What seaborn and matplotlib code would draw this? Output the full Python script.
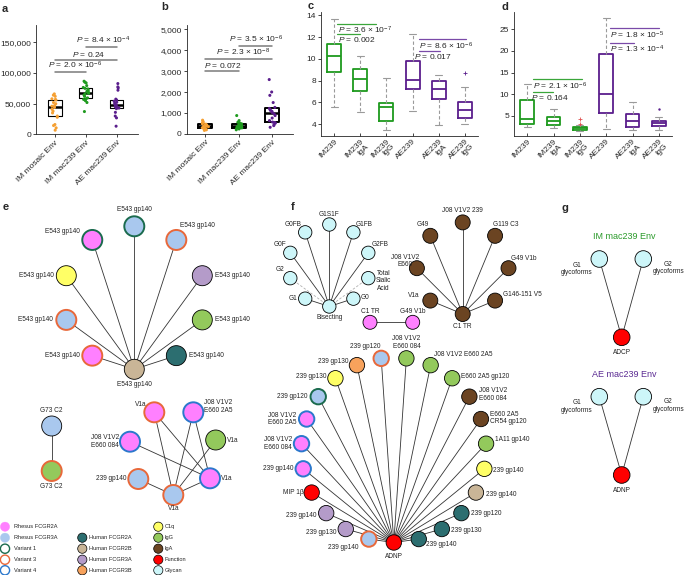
import numpy as np
import pandas as pd
import matplotlib
matplotlib.use("Agg")
import matplotlib.pyplot as plt
from matplotlib.patches import Circle
from matplotlib.ticker import FuncFormatter
import seaborn as sns

sns.set_style("ticks")
plt.rcParams['font.family'] = ['Liberation Sans', 'DejaVu Sans']
plt.rcParams['mathtext.fontset'] = 'custom'
plt.rcParams['mathtext.rm'] = 'Liberation Sans'
plt.rcParams['mathtext.it'] = 'Liberation Sans:italic'
plt.rcParams['mathtext.bf'] = 'Liberation Sans:bold'
np.random.seed(3)

# ---------------- data: panels a, b ----------------
ab_groups = ["IM mosaic Env", "IM mac239 Env", "AE mac239 Env"]
a_im_mosaic = [7000, 10800, 14600, 16200, 28000, 30000, 35000, 38000, 41000, 44000,
               46000, 47000, 50000, 52000, 56000, 57000, 58000, 62000, 64000, 66000]
a_im_mac239 = [37300, 52000, 55000, 57000, 58000, 59500, 62000, 64000, 66000, 67000,
               68200, 70000, 72000, 74000, 75000, 76500, 79500, 83900, 85000, 86600]
a_ae_mac239 = [13500, 27000, 30000, 36000, 42000, 43000, 44000, 45000, 46500, 48000,
               49500, 51000, 52500, 54000, 56000, 57500, 72000, 75700, 77400, 82800]
a_pairs = [(0, 1), (0, 2), (1, 2)]
a_pvals = ["2.0 × 10$^{-6}$", "0.24", "8.4 × 10$^{-4}$"]

b_im_mosaic = [170, 200, 230, 250, 260, 280, 300, 330, 350, 360,
               380, 400, 420, 450, 470, 490, 520, 560, 610, 660]
b_im_mac239 = [200, 240, 270, 290, 300, 310, 330, 350, 370, 390,
               410, 420, 440, 460, 475, 490, 520, 560, 640, 880]
b_ae_mac239 = [320, 400, 450, 520, 550, 570, 640, 760, 880, 960,
               1030, 1080, 1130, 1180, 1220, 1270, 1500, 1843, 2004, 2597]
b_pairs = [(0, 1), (0, 2), (1, 2)]
b_pvals = ["0.072", "2.3 × 10$^{-8}$", "3.5 × 10$^{-6}$"]

# ---------------- data: panels c, d ----------------
cd_groups = ["IM239", "IM239\nIgA", "IM239\nIgG", "AE239", "AE239\nIgA", "AE239\nIgG"]
c_low = [5.6, 5.07, 3.49, 5.16, 3.94, 3.98]
c_q1 = [8.8, 7.06, 4.27, 7.18, 6.27, 4.6]
c_med = [10.3, 8.13, 5.53, 8.04, 7.24, 5.28]
c_q3 = [11.4, 9.05, 5.95, 9.84, 7.92, 6.0]
c_high = [13.66, 10.3, 8.2, 12.3, 8.52, 7.44]
c_out_group = [5]
c_out_value = [8.7]
c_pvals_im = ["3.6 × 10$^{-7}$", "0.002"]
c_pvals_ae = ["8.6 × 10$^{-6}$", "0.017"]

d_low = [2.44, 2.14, 1.45, 1.98, 1.74, 1.74]
d_q1 = [3.14, 2.84, 1.74, 5.77, 2.5, 2.67]
d_med = [4.3, 3.77, 2.1, 10.05, 3.84, 3.3]
d_q3 = [8.56, 4.7, 2.5, 19.35, 5.47, 3.84]
d_high = [12.3, 6.6, 2.8, 27.7, 8.26, 4.7]
d_out_group = [2, 2, 5]
d_out_value = [4.3, 3.1, 6.56]
d_pvals_im = ["2.1 × 10$^{-6}$", "0.164"]
d_pvals_ae = ["1.8 × 10$^{-5}$", "1.3 × 10$^{-4}$"]

# ---------------- colours ----------------
ORANGE, GREEN, PURPLE = "#F5A033", "#1E9A1E", "#5A1E8C"
PINK, LBLUE = "#FF80FF", "#A9C8EE"
V1, V3, V4 = "#1B6B4E", "#E8683A", "#2B78CC"
TEAL, TAN, LPURP, HORANGE = "#2C6E70", "#C9B597", "#B49BC9", "#F7A25C"
YELLOW, IGG, IGA, RED, GLY = "#FFFF66", "#93C95C", "#6B4422", "#FF0000", "#CDF6F9"
BLK = "black"

W, H = 685, 575
fig = plt.figure(figsize=(6.85, 5.75), dpi=100)


def ax_px(l, t, r, b):
    return fig.add_axes([l / W, 1 - b / H, (r - l) / W, (b - t) / H])


def style_ax(ax):
    ax.set_facecolor("none")
    sns.despine(ax=ax)
    for s in ("left", "bottom"):
        ax.spines[s].set_linewidth(0.6)
    ax.tick_params(labelsize=6, length=2, width=0.6, pad=1.5)
    ax.set_xlabel("")
    ax.set_ylabel("")


def ptxt(s):
    return r"$\it{P}$ = " + s


# ---------------- network overlay axes ----------------
net = fig.add_axes([0, 0, 1, 1])
net.set_xlim(0, W)
net.set_ylim(H, 0)
net.set_axis_off()
net.set_facecolor("none")


# ---------------- panels a & b ----------------
def strip_box(ax, vals, ylim, xlim, blw, mlw):
    df = pd.DataFrame({"group": np.repeat(ab_groups, [len(v) for v in vals]),
                       "value": np.concatenate(vals)})
    sns.boxplot(data=df, x="group", y="value", order=ab_groups, ax=ax, fill=False,
                color="black", linewidth=blw, width=0.43, showfliers=False,
                showcaps=False, whis=0, whiskerprops=dict(linewidth=0),
                medianprops=dict(linewidth=mlw, color="black"), zorder=2)
    sns.stripplot(data=df, x="group", y="value", order=ab_groups, hue="group",
                  palette=[ORANGE, GREEN, PURPLE], hue_order=ab_groups, ax=ax,
                  jitter=0.1, size=2.2, linewidth=0, legend=False, zorder=3)
    ax.set_ylim(*ylim)
    ax.set_xlim(*xlim)
    style_ax(ax)
    ax.yaxis.set_major_formatter(FuncFormatter(lambda v, p: f"{v:,.0f}"))
    ax.set_xticks(range(3))
    ax.set_xticklabels(ab_groups, rotation=45, ha="right", rotation_mode="anchor")


ax_a = ax_px(36, 25, 138, 134.5)
strip_box(ax_a, [a_im_mosaic, a_im_mac239, a_ae_mac239], (0, 178000), (-0.61, 2.69), 0.8, 1.8)
ax_a.set_yticks([0, 50000, 100000, 150000])
for (g0, g1), p, y, tx in zip(a_pairs, a_pvals, [101000, 121000, 142000], [-0.22, 0.57, 0.68]):
    ax_a.plot([g0, g1], [y, y], color="#7a7a7a", lw=1.1, clip_on=False)
    ax_a.text(tx, y + 1500, ptxt(p), fontsize=6, ha="left", va="bottom")

ax_b = ax_px(186.5, 25, 293, 134)
strip_box(ax_b, [b_im_mosaic, b_im_mac239, b_ae_mac239], (0, 5200), (-0.56, 2.62), 1.4, 1.8)
ax_b.set_yticks(range(0, 5001, 1000))
for (g0, g1), p, y, tx in zip(b_pairs, b_pvals, [3000, 3570, 4200], [-0.05, 0.31, 0.71]):
    ax_b.plot([g0, g1], [y, y], color="#7a7a7a", lw=1.1, clip_on=False)
    ax_b.text(tx, y + 40, ptxt(p), fontsize=6, ha="left", va="bottom")


# ---------------- panels c & d ----------------
def box5(ax, lows, q1s, meds, q3s, highs, ylim):
    colors = [GREEN] * 3 + [PURPLE] * 3
    for i, g in enumerate(cd_groups):
        vals = [lows[i], q1s[i], meds[i], q3s[i], highs[i]]
        sns.boxplot(x=[g] * 5, y=vals, order=cd_groups, ax=ax, whis=(0, 100), fill=False,
                    color=colors[i], linewidth=1.3, width=0.53, showfliers=False,
                    whiskerprops=dict(color="#9a9a9a", linestyle=(0, (3, 2)), linewidth=0.8),
                    capprops=dict(color="#9a9a9a", linewidth=0.8),
                    medianprops=dict(color=colors[i], linewidth=1.3))
    ax.set_xlim(-0.5, 5.5)
    ax.set_ylim(*ylim)
    style_ax(ax)
    ax.tick_params(axis="x", direction="in")
    ax.set_xticks(range(6))
    ax.set_xticklabels(cd_groups, rotation=45, ha="right", rotation_mode="anchor",
                       linespacing=0.95)


ax_c = ax_px(321, 12, 478, 136)
box5(ax_c, c_low, c_q1, c_med, c_q3, c_high, (2.9, 14.3))
ax_c.set_yticks([4, 6, 8, 10, 12, 14])
ax_c.scatter(c_out_group, c_out_value, marker="+", color=PURPLE, s=6, lw=0.6, zorder=4)
for (x0, x1, y), p, tx in zip([(0.1, 1.62, 13.24), (0.1, 1.0, 12.26)], c_pvals_im, [0.14, 0.14]):
    ax_c.plot([x0, x1], [y, y], color="#3aa63a", lw=0.9, clip_on=False)
    ax_c.text(tx, y - 0.1, ptxt(p), fontsize=6, ha="left", va="top")
for (x0, x1, y), p, tx in zip([(3.23, 5.05, 11.8), (3.23, 4.03, 10.72)], c_pvals_ae, [3.23, 3.04]):
    ax_c.plot([x0, x1], [y, y], color="#7a4aa8", lw=0.9, clip_on=False)
    ax_c.text(tx, y - 0.1, ptxt(p), fontsize=6, ha="left", va="top")

ax_d = ax_px(514, 12, 672, 136)
box5(ax_d, d_low, d_q1, d_med, d_q3, d_high, (0.35, 29))
ax_d.set_yticks([5, 10, 15, 20, 25])
ax_d.scatter(d_out_group[:2], d_out_value[:2], marker="+", color="#e05050", s=5, lw=0.6, zorder=4)
ax_d.scatter(d_out_group[2:], d_out_value[2:], marker="o", color=PURPLE, s=3, lw=0, zorder=4)
for (x0, x1, y), p, tx in zip([(0.23, 2.09, 13.5), (0.23, 0.99, 10.6)], d_pvals_im, [0.24, 0.15]):
    ax_d.plot([x0, x1], [y, y], color="#3aa63a", lw=0.9, clip_on=False)
    ax_d.text(tx, y - 0.3, ptxt(p), fontsize=6, ha="left", va="top")
for (x0, x1, y), p, tx in zip([(3.16, 5.02, 25.2), (3.16, 4.07, 21.9)], d_pvals_ae, [3.16, 3.16]):
    ax_d.plot([x0, x1], [y, y], color="#7a4aa8", lw=0.9, clip_on=False)
    ax_d.text(tx, y - 0.3, ptxt(p), fontsize=6, ha="left", va="top")

# ---------------- network data ----------------
FS = 4.7


def node(x, y, r, fc, ec):
    lw = 0.6 if ec == BLK else 1.4
    net.add_patch(Circle((x, y), r, facecolor=fc, edgecolor=ec, linewidth=lw, zorder=3))


def edge(p, q, dashed=False):
    if dashed:
        net.plot([p[0], q[0]], [p[1], q[1]], color="#b0b0b0", lw=0.6, ls=(0, (3, 2)), zorder=1)
    else:
        net.plot([p[0], q[0]], [p[1], q[1]], color="#333333", lw=0.6, zorder=1)


def label(x, y, s, ha="center", fs=FS, color="#222222"):
    net.text(x, y, s, fontsize=fs, ha=ha, va="center", color=color,
             multialignment=ha if ha != "center" else "center", linespacing=1.15, zorder=4)


def fan(cx, cy, R, n, start=90.0):
    ang = np.deg2rad(start - np.arange(n) * 360.0 / n)
    return cx + R * np.cos(ang), cy - R * np.sin(ang)


def draw_fan(xs, ys, hub, r, fills, rings, labels, offs, dashed=()):
    for k in range(len(xs)):
        if k != hub:
            edge((xs[hub], ys[hub]), (xs[k], ys[k]), dashed=k in dashed)
    for k in range(len(xs)):
        node(xs[k], ys[k], r, fills[k], rings[k])
        dx, dy, ha = offs[k]
        label(xs[k] + dx, ys[k] + dy, labels[k], ha)


# panel e fan
e_labels = ["E543 gp140"] * 10
e_fill = [LBLUE, LBLUE, LPURP, IGG, TEAL, TAN, PINK, LBLUE, YELLOW, PINK]
e_ring = [V1, V3, BLK, BLK, BLK, BLK, V3, V3, BLK, V1]
e_offs = [(0, -17, "center"), (4, -14, "left"), (12.7, 0, "left"), (12.7, 0, "left"),
          (12.3, 0, "left"), (0, 15, "center"), (-12, 0, "right"), (-13.4, 0, "right"),
          (-12.7, 0, "right"), (-12, -8.4, "right")]
ex, ey = fan(134.3, 297.8, 71.5, 10)
draw_fan(ex, ey, 5, 10, e_fill, e_ring, e_labels, e_offs)

# panel e pair
pair_labels = ["G73 C2", "G73 C2"]
pair_fill = [LBLUE, IGG]
pair_ring = [BLK, V3]
pair_pos = [(51.7, 426), (51.7, 471)]
edge(pair_pos[0], pair_pos[1])
for (x, y), fc, ec, lab, dy in zip(pair_pos, pair_fill, pair_ring, pair_labels, [-16, 15]):
    node(x, y, 10, fc, ec)
    label(x, y + dy, lab)

# panel e small network
sn_labels = ["V1a", "J08 V1V2\nE660 2A5", "J08 V1V2\nE660 084", "V1a", "239 gp140", "V1a", "V1a"]
sn_fill = [PINK, PINK, PINK, IGG, LBLUE, PINK, LBLUE]
sn_ring = [V3, V4, V4, BLK, V3, V4, V3]
sn_pos = [(154.3, 412.3), (193.3, 412.3), (130, 441.7), (215.7, 440), (138.3, 479), (210, 478.3), (173.3, 495)]
sn_offs = [(-8, -8, "right"), (10.4, -5.6, "left"), (-11, 0, "right"), (11, 0, "left"),
           (-12, 0, "right"), (10.7, 0, "left"), (0, 13.3, "center")]
sn_edges = [(0, 5), (0, 6), (1, 5), (1, 6), (2, 5), (3, 6), (4, 6), (5, 6)]
for i, j in sn_edges:
    edge(sn_pos[i], sn_pos[j])
for k in range(len(sn_pos)):
    node(*sn_pos[k], 10, sn_fill[k], sn_ring[k])
    label(sn_pos[k][0] + sn_offs[k][0], sn_pos[k][1] + sn_offs[k][1], sn_labels[k], sn_offs[k][2])

# legend
leg_cols = [
    (5, 14, [526.7, 537.7, 548.7, 559.7, 570.3],
     ["Rhesus FCGR2A", "Rhesus FCGR3A", "Variant 1", "Variant 3", "Variant 4"],
     [PINK, LBLUE, "white", "white", "white"], [PINK, LBLUE, V1, V3, V4]),
    (82.3, 89.3, [537.7, 548.7, 559.7, 570.3],
     ["Human FCGR2A", "Human FCGR2B", "Human FCGR3A", "Human FCGR3B"],
     [TEAL, TAN, LPURP, HORANGE], [BLK, BLK, BLK, BLK]),
    (158.3, 164.3, [526.7, 537.7, 548.7, 559.7, 570.3],
     ["C1q", "IgG", "IgA", "Function", "Glycan"],
     [YELLOW, IGG, IGA, RED, GLY], [BLK] * 5),
]
for mx, tx, ys, labs, fcs, ecs in leg_cols:
    for y, lab, fc, ec in zip(ys, labs, fcs, ecs):
        lw = 0.5 if ec == BLK else (1.0 if fc == "white" else 0.3)
        net.add_patch(Circle((mx, y), 4.6, facecolor=fc, edgecolor=ec, linewidth=lw, zorder=3))
        net.text(tx, y, lab, fontsize=4.1, ha="left", va="center", color="#222222")

# panel f glycan fan
gl_labels = ["G1S1F", "G1FB", "G2FB", "Total\nSialic\nAcid", "G0", "Bisecting", "G1", "G2", "G0F", "G0FB"]
gl_offs = [(0, -10, "center"), (2, -8, "left"), (3.7, -8.7, "left"), (15.3, 2.6, "center"),
           (7.7, -1, "left"), (0, 10.6, "center"), (-7.4, 0, "right"), (-6, -9, "right"),
           (-4, -8, "right"), (-4, -8, "right")]
gx, gy = fan(329.3, 265.5, 41, 10)
draw_fan(gx, gy, 5, 6.7, [GLY] * 10, [BLK] * 10, gl_labels, gl_offs, dashed=(3, 7))

# panel f IgA fan
br_labels = ["J08 V1V2 239", "G119 C3", "G49 V1b", "G146-151 V5", "C1 TR", "V1a", "J08 V1V2\nE660", "G49"]
br_offs = [(0, -11.6, "center"), (-1.7, -11, "left"), (2.3, -9.6, "left"), (8.3, -5.7, "left"),
           (0, 12, "center"), (-10.7, -5, "right"), (-11.7, -7.3, "center"), (-1, -11.4, "right")]
bx, by = fan(462.7, 268.2, 45.8, 8)
draw_fan(bx, by, 4, 7.5, [IGA] * 8, [BLK] * 8, br_labels, br_offs)

# panel f pink pair
pp_labels = ["C1 TR", "G49 V1b"]
pp_pos = [(370, 322.3), (412.7, 322.3)]
edge(pp_pos[0], pp_pos[1])
for (x, y), lab in zip(pp_pos, pp_labels):
    node(x, y, 7, PINK, BLK)
    label(x, y - 11, lab)

# panel f big ADNP fan
ad_labels = ["J08 V1V2\nE660 084", "J08 V1V2 E660 2A5", "E660 2A5 gp120", "J08 V1V2\nE660 084",
             "E660 2A5\nCR54 gp120", "1A11 gp140", "239 gp140", "239 gp140", "239 gp120",
             "239 gp130", "239 gp140", "ADNP", "239 gp140", "239 gp130", "239 gp140", "MIP 1β",
             "239 gp140", "J08 V1V2\nE660 084", "J08 V1V2\nE660 2A5", "239 gp120", "239 gp130",
             "239 gp130", "239 gp120"]
ad_fill = [IGG, IGG, IGG, IGA, IGA, IGG, YELLOW, TAN, TEAL, TEAL, TEAL, RED, LBLUE, LPURP,
           LPURP, RED, PINK, PINK, PINK, LBLUE, YELLOW, HORANGE, LBLUE]
ad_ring = [BLK, BLK, BLK, BLK, BLK, BLK, BLK, BLK, BLK, BLK, BLK, BLK, V3, BLK,
           BLK, BLK, V4, V4, V4, V1, BLK, BLK, V3]
ad_offs = [(0, -16, "center"), (3, -11, "left"), (9, -2, "left"), (9.3, -2, "left"),
           (9.3, -1, "left"), (9.3, -4, "left"), (8.7, 1.7, "left"), (10, 1.7, "left"),
           (9.4, 0.7, "left"), (8.7, 1.7, "left"), (7.4, 5.7, "left"), (0, 14, "center"),
           (-10, 8, "right"), (-9, 3.3, "right"), (-9.3, 2, "right"), (-7.7, 0, "right"),
           (-10, 0, "right"), (-9.6, 0, "right"), (-10.5, 0, "right"), (-10.3, 0, "right"),
           (-9.3, -2, "right"), (-8, -4, "right"), (-16, -11.5, "center")]
n_ad = len(ad_labels)
axs_, ays_ = fan(393.8, 450, 92.5, n_ad, start=90 - 180.0 / n_ad)
draw_fan(axs_, ays_, 11, 7.7, ad_fill, ad_ring, ad_labels, ad_offs)

# panel g
g_titles = ["IM mac239 Env", "AE mac239 Env"]
g_title_colors = ["#2A9A2A", "#5A2A92"]
g_funcs = ["ADCP", "ADNP"]
for row, (title, tc, fn) in enumerate(zip(g_titles, g_title_colors, g_funcs)):
    y0 = 259 + row * 137.7
    label(624, y0 - 22.3, title, fs=6.5, color=tc)
    g1, g2, f = (599.3, y0), (643.3, y0), (621.7, y0 + 78.3)
    edge(g1, f)
    edge(g2, f)
    node(*g1, 8.3, GLY, BLK)
    node(*g2, 8.3, GLY, BLK)
    node(*f, 8.3, RED, BLK)
    label(g1[0] - 22.6, y0 + 10, "G1\nglycoforms")
    label(g2[0] + 25, y0 + 9, "G2\nglycoforms")
    label(f[0], f[1] + 15.5, fn)

# panel letters
for s, x, y in [("a", 2, 9), ("b", 161, 7), ("c", 308, 6), ("d", 502, 7),
                ("e", 3, 207), ("f", 291, 207), ("g", 562, 208)]:
    net.text(x, y, s, fontsize=8, fontweight="bold", ha="left", va="center")

fig.savefig("out.png", dpi=100)
